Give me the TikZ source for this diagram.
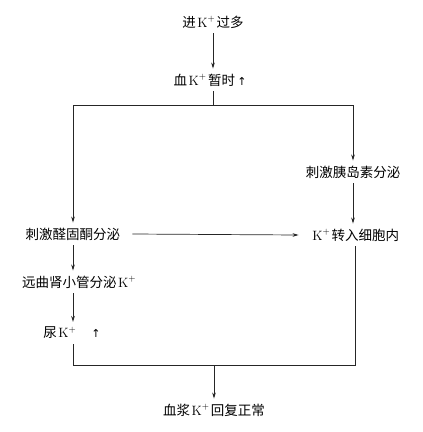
\documentclass[tikz,border=0pt]{standalone}
\usepackage{fontspec}
\newfontfamily\cjk{Noto Sans CJK SC}
\newfontfamily\symfont{DejaVu Sans}
\usetikzlibrary{arrows.meta}
\newcommand\kplus{\hspace{1.5pt}{\rmfamily K}$^{+}$\hspace{1.5pt}}
\newcommand\uparr{{\symfont\fontsize{11}{11}\selectfont ↑}}
\begin{document}
\begin{tikzpicture}[x=1pt,y=-1pt,
  lbl/.style={font=\cjk\fontsize{13.5}{15}\selectfont, inner xsep=2pt, inner ysep=5pt, text=black},
  conn/.style={line width=0.7pt, draw=black!85},
  arr/.style={conn, -{Stealth[length=6pt,width=3.6pt]}}]
\useasboundingbox (0,0) rectangle (423,432);
\node[lbl] (n1) at (213,22) {进\kplus 过多};
\node[lbl] (n2) at (210,80) {血\kplus 暂时\,\uparr};
\node[lbl] (n3) at (353,172) {刺激胰岛素分泌};
\node[lbl] (n4) at (355,235) {\kplus 转入细胞内};
\node[lbl] (n5) at (73,234) {刺激醛固酮分泌};
\node[lbl] (n6) at (79,282) {远曲肾小管分泌\kplus};
\node[lbl] (n7) at (72,333) {尿\kplus\quad\uparr};
\node[lbl] (n8) at (214,410) {血浆\kplus 回复正常};
\coordinate (top) at (213,105);
\coordinate (bot) at (214,365);
\draw[arr] (n1) -- (n1 |- n2.north);
\draw[conn] (top |- n2.south) -- (top);
\draw[arr] (top) -| (n5.north);
\draw[arr] (top) -| (n3.north);
\draw[arr] (n3) -- (n3 |- n4.north);
\draw[arr] ([xshift=10pt]n5.east) -- ([xshift=-10pt]n4.west);
\draw[arr] (n5) -- (n5 |- n6.north);
\draw[arr] (n5 |- n6.south) -- (n5 |- n7.north);
\draw[conn] (n5 |- n7.south) |- (n4.south |- bot) -- (n4.south);
\draw[arr] (bot) -- (bot |- n8.north);
\end{tikzpicture}
\end{document}
